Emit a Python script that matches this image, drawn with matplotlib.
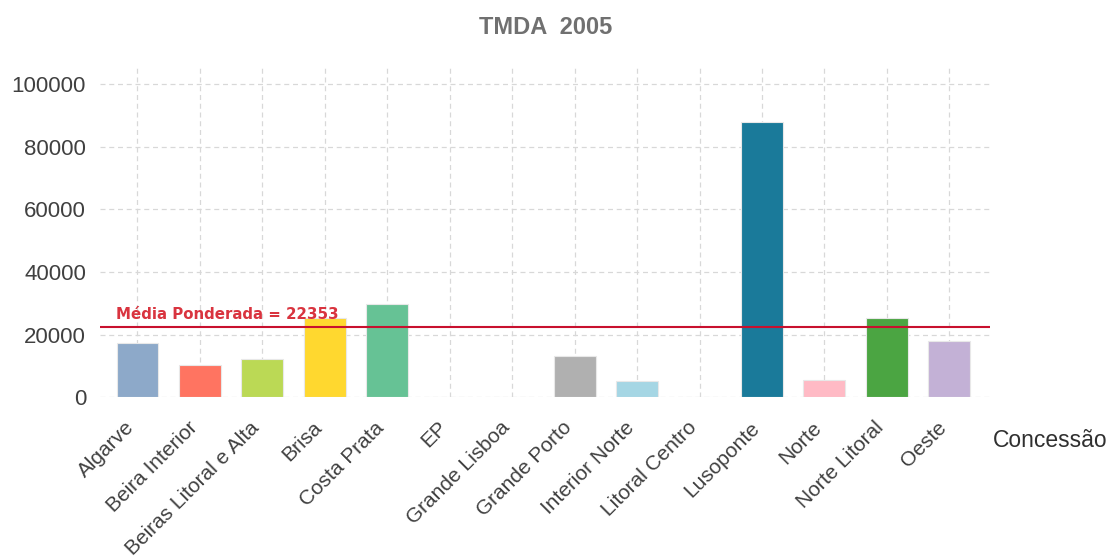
import matplotlib
matplotlib.use('Agg')
import matplotlib.pyplot as plt
import matplotlib.transforms as mtransforms

# Dados
concessoes = ['Algarve', 'Beira Interior', 'Beiras Litoral e Alta', 'Brisa', 'Costa Prata',
              'EP', 'Grande Lisboa', 'Grande Porto', 'Interior Norte', 'Litoral Centro',
              'Lusoponte', 'Norte', 'Norte Litoral', 'Oeste']
tmda = [17300, 10200, 12100, 25200, 29600, 0, 0, 13100, 5100, 0, 87900, 5400, 25200, 17800]
cores = ['#8DA9C9', '#FF7461', '#BBD955', '#FFD82F', '#66C295', '#999999', '#999999',
         '#B0B0B0', '#A5D6E4', '#999999', '#1A7A9A', '#FFBAC5', '#4BA542', '#C3B1D6']
media_ponderada = 22353
yticks = [0, 20000, 40000, 60000, 80000, 100000]

plt.rcParams.update({
    'font.family': 'Liberation Sans',
    'font.size': 15,
})

fig = plt.figure(figsize=(11.11, 5.57), dpi=100)
ax = fig.add_axes([0.09, 0.287, 0.801, 0.596])

x = list(range(len(concessoes)))
ax.bar(x, tmda, width=0.67, color=cores, edgecolor='#e8e8e8', linewidth=0.8, zorder=3)

# linha da média
ax.axhline(media_ponderada, color='#C8102E', linewidth=1.5, zorder=4)
ax.text(-0.35, media_ponderada + 2600, f'Média Ponderada = {media_ponderada}',
        color='#D9343F', fontsize=10.8, fontweight='bold', family='DejaVu Sans',
        ha='left', va='baseline', zorder=5)

ax.set_xlim(-0.6, 13.65)
ax.set_ylim(0, 106000)
ax.set_yticks(yticks)
ax.set_yticklabels([str(v) for v in yticks], color='#404040', fontsize=16)
ax.set_xticks(x)
ax.set_xticklabels(concessoes, rotation=45, ha='right', rotation_mode='anchor',
                   color='#404040', fontsize=15)
ax.tick_params(axis='y', length=0, pad=10)
ax.tick_params(axis='x', length=0, pad=15)
desloc = mtransforms.ScaledTranslation(-9 / 72, 0, fig.dpi_scale_trans)
for lab in ax.get_xticklabels():
    lab.set_transform(lab.get_transform() + desloc)

ax.grid(True, color='#d8d8d8', linestyle=(0, (4, 3)), linewidth=0.9, zorder=0)
for s in ax.spines.values():
    s.set_visible(False)

fig.text(0.491, 0.95, 'TMDA  2005', ha='center', va='center', fontsize=17,
         fontweight='bold', color='#707070')
fig.text(0.894, 0.21, 'Concessão', ha='left', va='center', fontsize=16.5, color='#303030')

fig.savefig('out.png', dpi=100)
